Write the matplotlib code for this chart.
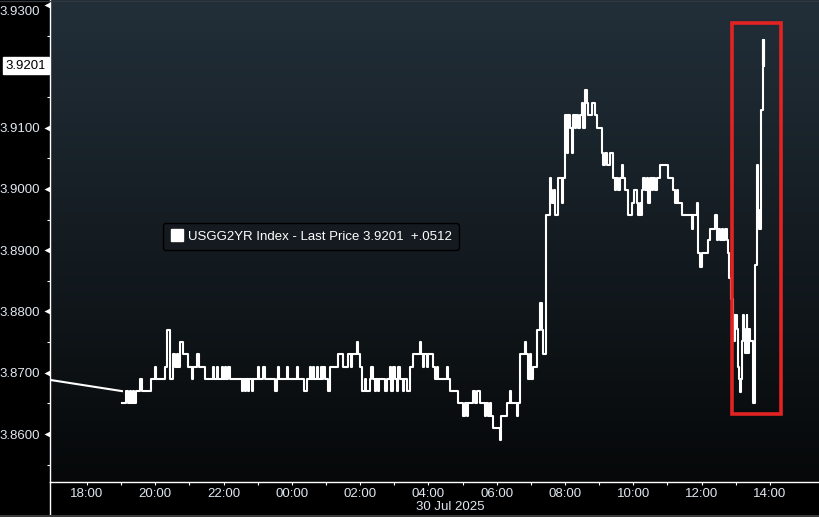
import numpy as np
import matplotlib.pyplot as plt
from matplotlib.lines import Line2D
from matplotlib.patches import Rectangle
from matplotlib import transforms

plt.rcParams['font.family'] = ['Liberation Sans', 'DejaVu Sans']

# time axis: minutes after 29 Jul 2025 18:00 (New York)
tick_pos = [0, 120, 240, 360, 480, 600, 720, 840, 960, 1080, 1200]
tick_labels = ["18:00", "20:00", "22:00", "00:00", "02:00", "04:00",
               "06:00", "08:00", "10:00", "12:00", "14:00"]
date_label = "30 Jul 2025"

# last value of the previous session, joined to the first tick of this one
gap_t = [-70, 61.5]
gap_v = [3.8689, 3.8670]

# USGG2YR ticks (value holds until the next time)
t = [61.5, 68.5, 71.2, 75.6, 77.3, 80.8, 82.6, 87.0, 93.1, 96.1,
     111.9, 119.5, 122.1, 137.0, 141.1, 145.8, 151.6, 154.6, 157.6, 160.4,
     163.4, 169.2, 178.0, 184.0, 186.8, 193.8, 197.3, 207.3, 221.9, 224.0,
     227.9, 230.2, 236.7, 239.0, 242.5, 244.8, 248.3, 251.3, 271.8, 274.1,
     277.6, 280.2, 283.4, 285.5, 289.4, 291.7, 301.0, 303.1, 308.7, 312.7,
     330.3, 333.8, 336.1, 338.2, 350.9, 353.2, 368.4, 370.7, 381.3, 386.5,
     391.8, 394.5, 397.6, 399.7, 403.6, 405.9, 410.6, 412.9, 415.2, 418.2,
     424.0, 427.0, 441.5, 450.3, 459.1, 463.8, 466.5, 473.9, 475.6, 479.7,
     482.6, 488.4, 491.1, 497.2, 499.9, 502.5, 506.0, 508.6, 511.8, 513.9,
     523.6, 527.1, 532.4, 534.1, 538.2, 541.2, 544.7, 547.3, 550.0, 555.2,
     557.9, 562.2, 567.5, 573.3, 585.1, 586.8, 590.9, 593.0, 596.9, 599.1,
     608.5, 611.4, 614.9, 617.6, 632.0, 634.3, 637.8, 652.4, 661.2, 664.1,
     667.1, 669.4, 678.7, 681.7, 684.7, 690.5, 699.3, 701.9, 705.1, 708.1,
     710.7, 713.9, 725.6, 727.4, 737.4, 743.2, 745.9, 755.0, 757.3, 760.8,
     769.6, 771.4, 775.4, 778.4, 781.0, 783.6, 790.1, 795.9, 798.9, 801.7,
     805.9, 813.3, 815.1, 817.7, 820.3, 822.3, 827.9, 833.9, 836.7, 839.9,
     842.8, 845.6, 848.6, 851.6, 854.4, 857.4, 860.0, 862.7, 866.2, 869.2,
     872.0, 875.0, 878.0, 880.8, 886.8, 892.6, 895.6, 904.3, 907.1, 910.1,
     913.1, 918.9, 924.7, 927.7, 930.4, 933.0, 936.5, 939.5, 942.3, 945.3,
     951.1, 957.1, 961.1, 965.9, 968.7, 971.7, 973.4, 974.7, 977.5, 980.4,
     983.4, 986.2, 989.2, 992.2, 995.0, 998.0, 1000.9, 1006.7, 1021.3, 1030.1,
     1033.1, 1036.1, 1038.9, 1044.9, 1062.4, 1065.2, 1071.2, 1074.0, 1077.0, 1080.0,
     1091.6, 1094.6, 1103.4, 1106.4, 1109.2, 1112.2, 1115.2, 1118.0, 1120.9, 1123.9,
     1126.7, 1128.5, 1131.5, 1135.5, 1137.6, 1139.4, 1141.5, 1144.3, 1145.5, 1147.3,
     1149.1, 1150.3, 1153.1, 1154.9, 1156.1, 1159.1, 1160.5, 1161.9, 1163.1, 1164.9,
     1170.7, 1173.7, 1177.7, 1178.9, 1181.2, 1184.2, 1187.2, 1188.6, 1189.5, 1190.4]
v = [3.865, 3.867, 3.865, 3.867, 3.865, 3.867, 3.865, 3.867, 3.869, 3.867,
     3.869, 3.871, 3.869, 3.871, 3.877, 3.869, 3.873, 3.871, 3.873, 3.871,
     3.875, 3.873, 3.871, 3.869, 3.871, 3.873, 3.871, 3.869, 3.871, 3.869,
     3.871, 3.869, 3.871, 3.869, 3.871, 3.869, 3.871, 3.869, 3.867, 3.869,
     3.867, 3.869, 3.867, 3.869, 3.867, 3.869, 3.871, 3.869, 3.871, 3.869,
     3.867, 3.869, 3.871, 3.869, 3.871, 3.869, 3.871, 3.869, 3.867, 3.869,
     3.871, 3.869, 3.871, 3.869, 3.871, 3.869, 3.871, 3.869, 3.871, 3.869,
     3.867, 3.871, 3.873, 3.871, 3.873, 3.871, 3.873, 3.875, 3.873, 3.871,
     3.867, 3.869, 3.867, 3.869, 3.871, 3.869, 3.867, 3.869, 3.867, 3.869,
     3.867, 3.869, 3.871, 3.867, 3.871, 3.869, 3.867, 3.871, 3.869, 3.867,
     3.869, 3.867, 3.871, 3.873, 3.875, 3.873, 3.871, 3.873, 3.871, 3.873,
     3.871, 3.869, 3.871, 3.869, 3.871, 3.869, 3.867, 3.865, 3.863, 3.865,
     3.863, 3.865, 3.867, 3.865, 3.867, 3.865, 3.863, 3.865, 3.863, 3.865,
     3.863, 3.861, 3.859, 3.863, 3.865, 3.867, 3.865, 3.863, 3.865, 3.873,
     3.875, 3.873, 3.869, 3.873, 3.869, 3.871, 3.877, 3.8814, 3.877, 3.873,
     3.8957, 3.9018, 3.8998, 3.8977, 3.8998, 3.8957, 3.9018, 3.8977, 3.9018, 3.912,
     3.9058, 3.912, 3.9099, 3.9058, 3.912, 3.9099, 3.912, 3.9099, 3.912, 3.914,
     3.9099, 3.9161, 3.914, 3.912, 3.914, 3.912, 3.9099, 3.9058, 3.9039, 3.9058,
     3.9039, 3.9058, 3.9018, 3.8998, 3.9018, 3.8998, 3.9018, 3.9039, 3.9018, 3.8998,
     3.8957, 3.8977, 3.8998, 3.8977, 3.8957, 3.8977, 3.8957, 3.8998, 3.9018, 3.8998,
     3.9018, 3.8977, 3.9018, 3.8998, 3.9018, 3.8998, 3.9018, 3.9039, 3.9018, 3.8998,
     3.8977, 3.8998, 3.8977, 3.8957, 3.8935, 3.8957, 3.8977, 3.8895, 3.8873, 3.8895,
     3.8916, 3.8935, 3.8957, 3.8916, 3.8935, 3.8916, 3.8935, 3.8916, 3.8935, 3.8916,
     3.8895, 3.8854, 3.8820, 3.8794, 3.8751, 3.8794, 3.8772, 3.8710, 3.8690, 3.8669,
     3.8690, 3.8751, 3.8794, 3.8772, 3.8732, 3.8794, 3.8772, 3.8732, 3.8772, 3.8751,
     3.8650, 3.8876, 3.9039, 3.8965, 3.8935, 3.9129, 3.9243, 3.9202, 3.9243, 3.9201]

last_price = 3.9201
net_change = "+.0512"
legend_text = "USGG2YR Index - Last Price %.4f  %s" % (last_price, net_change)

y_major = [3.86, 3.87, 3.88, 3.89, 3.90, 3.91, 3.93]
y_minor = [3.855, 3.865, 3.875, 3.885, 3.895, 3.905, 3.915, 3.925]

# highlighted window
box_t = [1133, 1219]
box_v = [3.8633, 3.9270]

txt = '#dfe7ef'
fig = plt.figure(figsize=(8.2, 5.17), dpi=100, facecolor='black')
ax = fig.add_axes([50.5 / 820, 35 / 517, 769.5 / 820, 482 / 517])

# background gradient
top = np.array([34, 47, 57]) / 255
bot = np.array([6, 8, 9]) / 255
f = np.linspace(0, 1, 256)[:, None]
grad = (top * (1 - f) + bot * f)[:, None, :]
ax.imshow(grad, extent=(0, 1, 0, 1), transform=ax.transAxes, aspect='auto', zorder=0)

ax.plot(gap_t, gap_v, color='white', lw=1.5, zorder=3)
ax.plot(t, v, color='white', lw=1.5, drawstyle='steps-post', zorder=3)

ax.add_patch(Rectangle((box_t[0], box_v[0]), box_t[1] - box_t[0], box_v[1] - box_v[0],
                       fill=False, edgecolor='#e32322', lw=2.6, zorder=5))

ax.set_xlim(-64.1, 1288)
ax.set_ylim(3.85217, 3.93082)

for s in ['top', 'right']:
    ax.spines[s].set_visible(False)
for s in ['left', 'bottom']:
    ax.spines[s].set_color('white')
    ax.spines[s].set_linewidth(1)

ax.set_xticks(tick_pos)
ax.set_xticklabels(tick_labels)
ax.set_xticks(np.arange(60, 1260, 120), minor=True)
ax.tick_params(axis='x', which='both', colors='white', labelcolor=txt, length=2.5,
               width=0.8, pad=2, labelsize=9.5)

ax.set_yticks(y_major)
ax.set_yticklabels(["%.4f" % y for y in y_major])
ax.set_yticks(y_minor, minor=True)
ax.tick_params(axis='y', which='major', length=0, pad=7.5, labelcolor=txt, labelsize=9.5)
ax.tick_params(axis='y', which='minor', length=2.5, width=0.8, colors='white')

# the top label sits a little lower so it stays inside the panel
toplab = ax.get_yticklabels()[-1]
toplab.set_transform(toplab.get_transform() + transforms.ScaledTranslation(0, -4 / 72, fig.dpi_scale_trans))

# triangular tick flags on the value axis
flag = transforms.offset_copy(transforms.blended_transform_factory(ax.transAxes, ax.transData),
                              fig=fig, x=-2.6, y=0, units='points')
ax.plot([0] * len(y_major), y_major, ls='none', marker='<', ms=5, color='white',
        mec='none', transform=flag, clip_on=False, zorder=6)

# last price label
lp = transforms.blended_transform_factory(ax.transAxes, ax.transData)
ax.annotate("%.4f" % last_price, xy=(0, last_price), xycoords=lp, xytext=(-3, 0),
            textcoords='offset points', ha='right', va='center', fontsize=9.5, color='black',
            bbox=dict(boxstyle='square,pad=0.2', fc='white', ec='white'), annotation_clip=False)
ax.plot([0], [last_price], ls='none', marker='>', ms=5, color='white', mec='none',
        transform=flag, clip_on=False, zorder=6)

ax.text(637.8, -0.052, date_label, transform=transforms.blended_transform_factory(ax.transData, ax.transAxes),
        ha='center', va='center', fontsize=9.5, color=txt)

h = Line2D([], [], marker='s', color='white', ms=8.5, ls='none')
leg = ax.legend([h], [legend_text], loc='upper left', bbox_to_anchor=(0.146, 0.537),
                borderaxespad=0, borderpad=0.55, handlelength=1.0, handletextpad=0.35,
                fontsize=9.5, fancybox=True, framealpha=1)
leg.get_frame().set_facecolor('#141a1f')
leg.get_frame().set_edgecolor('#000000')
leg.get_frame().set_linewidth(1)
for tx in leg.get_texts():
    tx.set_color('white')

# frame lines of the terminal panel
fig.add_artist(Line2D([50.5 / 820, 50.5 / 820], [0, 35 / 517], color='white', lw=1))
fig.add_artist(Line2D([0, 1], [1 / 517, 1 / 517], color='#3a3a3a', lw=1.5))
fig.add_artist(Line2D([0, 1], [516.5 / 517, 516.5 / 517], color='#30363b', lw=1))

plt.savefig('out.png', dpi=100, facecolor='black')
